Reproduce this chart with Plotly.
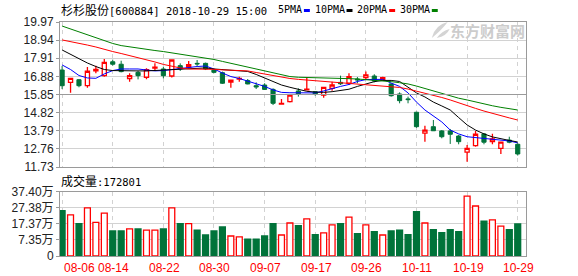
import plotly.graph_objects as go

dates = ["08-06","08-07","08-08","08-09","08-10","08-13","08-14","08-15","08-16","08-17",
         "08-20","08-21","08-22","08-23","08-24","08-27","08-28","08-29","08-30","08-31",
         "09-03","09-04","09-05","09-06","09-07","09-10","09-11","09-12","09-13","09-14",
         "09-17","09-18","09-19","09-20","09-21","09-25","09-26","09-27","09-28",
         "10-08","10-09","10-10","10-11","10-12","10-15","10-16","10-17","10-18","10-19",
         "10-22","10-23","10-24","10-25","10-26","10-29"]

opens = [17.24,16.54,16.69,16.35,17.19,16.92,17.71,17.57,16.75,17.11,
         16.83,17.35,17.30,16.90,17.49,17.41,17.62,17.62,17.24,17.09,
         16.55,16.73,16.64,16.35,16.39,16.14,15.30,15.44,16.05,16.12,
         16.01,15.82,16.20,16.54,16.49,16.73,16.81,16.90,16.67,16.45,
         15.88,15.60,14.84,13.65,14.02,13.78,13.78,13.49,12.57,12.94,
         13.61,13.17,12.79,13.26,13.02]
highs = [17.47,16.77,16.72,17.41,17.49,17.87,17.83,17.77,17.06,17.20,
         17.34,17.62,17.43,17.85,17.62,17.75,17.81,17.66,17.28,17.15,
         16.67,16.86,16.73,16.54,16.49,16.20,15.60,15.88,16.20,16.81,
         16.01,16.29,16.58,16.92,17.06,16.84,17.15,17.00,16.86,16.49,
         15.97,15.73,14.87,14.08,14.40,13.83,13.89,13.55,12.98,13.78,
         13.65,13.62,13.17,13.45,13.08]
lows = [16.16,15.95,16.26,16.24,17.06,16.86,17.49,17.11,16.58,16.71,
        16.71,17.19,16.77,16.81,17.19,17.34,17.47,17.24,17.06,16.45,
        16.24,16.58,16.43,16.16,16.11,15.25,15.30,15.39,15.73,16.11,
        15.78,15.67,16.07,16.39,16.39,16.49,16.67,16.54,16.62,15.73,
        15.35,15.35,13.96,13.17,13.79,13.36,13.04,13.02,12.03,12.88,
        13.02,13.02,12.47,13.08,12.38]
closes = [16.35,16.77,16.35,17.17,17.28,17.68,17.57,17.15,16.92,16.92,
          17.26,17.40,16.92,17.81,17.30,17.54,17.59,17.30,17.11,16.49,
          16.67,16.76,16.45,16.28,16.14,15.35,15.35,15.82,15.88,16.16,
          15.86,16.26,16.39,16.46,16.86,16.68,16.96,16.62,16.81,15.78,
          15.50,15.56,14.02,13.82,13.79,13.45,13.59,13.17,12.79,13.59,
          13.14,13.32,13.14,13.14,12.47]

ma5 = [17.53,17.27,16.93,16.79,16.77,17.02,17.21,17.30,17.30,17.30,
       17.24,17.19,17.21,17.27,17.36,17.41,17.44,17.47,17.30,17.07,
       16.87,16.76,16.62,16.49,16.31,16.11,15.97,15.95,15.95,15.94,
       15.94,16.05,16.20,16.31,16.42,16.59,16.70,16.71,16.71,16.50,
       16.31,15.94,15.42,14.97,14.63,14.29,13.83,13.61,13.45,13.41,
       13.36,13.29,13.27,13.21,13.10]
ma10 = [18.38,18.12,17.87,17.64,17.44,17.27,17.21,17.19,17.19,17.19,
        17.19,17.21,17.24,17.26,17.28,17.30,17.32,17.36,17.30,17.26,
        17.23,17.19,17.16,16.99,16.79,16.59,16.39,16.26,16.15,16.03,
        15.99,15.97,16.01,16.06,16.15,16.31,16.45,16.58,16.65,16.65,
        16.59,16.25,15.94,15.71,15.42,15.20,14.97,14.54,14.12,13.83,
        13.61,13.44,13.32,13.24,13.15]
ma20 = [18.95,18.86,18.78,18.66,18.55,18.41,18.29,18.18,18.07,17.95,
        17.84,17.70,17.56,17.44,17.36,17.30,17.30,17.30,17.28,17.25,
        17.23,17.20,17.19,17.10,17.02,16.90,16.82,16.76,16.71,16.67,
        16.65,16.62,16.58,16.53,16.49,16.45,16.42,16.39,16.35,16.30,
        16.25,16.16,16.05,15.94,15.82,15.68,15.54,15.37,15.23,15.06,
        14.91,14.77,14.63,14.52,14.40]
ma30 = [19.74,19.57,19.40,19.23,19.06,18.89,18.75,18.63,18.55,18.48,
        18.41,18.35,18.29,18.22,18.15,18.08,18.01,17.92,17.84,17.73,
        17.62,17.53,17.41,17.30,17.19,17.07,16.96,16.87,16.83,16.81,
        16.79,16.78,16.77,16.77,16.75,16.73,16.70,16.66,16.62,16.58,
        16.52,16.45,16.33,16.19,16.05,15.91,15.77,15.64,15.54,15.42,
        15.31,15.21,15.12,15.04,14.97]

volumes = [25.6,22.9,17.5,27.3,18.3,24.1,12.9,12.9,14.2,14.2,
           13.5,13.5,14.2,27.3,17.5,17.5,13.5,10.4,12.9,15.4,
           9.8,9.2,7.9,7.9,9.8,17.5,10.4,17.9,16.2,20.4,
           10.6,11.7,16.7,17.5,21.6,11.2,16.7,12.5,10.4,12.9,
           13.5,10.6,24.9,17.9,13.7,11.9,13.7,12.5,34.7,28.5,
           19.1,19.8,16.0,13.7,17.28]

price_ticks = [19.97,18.94,17.91,16.88,15.85,14.82,13.79,12.76,11.73]
vol_ticks = [37.40,27.38,17.37,7.35]
vol_labels = ["37.40万","27.38万","17.37万","7.35万"]
x_tick_idx = [0,6,12,18,24,30,36,42,48,54]
title_cn = "杉杉股份"
title_rest = "[600884] 2018-10-29 15:00"
vol_cn = "成交量"
vol_rest = ":172801"
ma_names = ["5PMA","10PMA","20PMA","30PMA"]
watermark = "东方财富网"

RED = "#ff0000"
GREEN = "#00733a"
MA_COLORS = ["#0000ff", "#000000", "#ff0000", "#008000"]
GRID = "#d2d2d2"
BORDER = "#9a9a9a"
FONT = "Liberation Sans, Noto Sans CJK SC, sans-serif"
MONO = "DejaVu Sans Mono, monospace"
CJK = "Noto Sans CJK SC"

W, H = 578, 276
ML, MR, MT, MB = 56, 52, 22, 20
PW, PH = W - ML - MR, H - MT - MB

def px(x):
    return (x - ML) / PW

def py(y):
    return (H - MB - y) / PH

VMIN = vol_ticks[0] - 4 * (vol_ticks[0] - vol_ticks[1])

fig = go.Figure()

fig.add_trace(go.Candlestick(
    x=dates, open=opens, high=highs, low=lows, close=closes,
    increasing=dict(line=dict(color=RED, width=1.3), fillcolor="#ffffff"),
    decreasing=dict(line=dict(color=GREEN, width=1), fillcolor=GREEN),
    whiskerwidth=0, xaxis="x", yaxis="y", hoverinfo="skip"))

for vals, col in zip([ma5, ma10, ma20, ma30], MA_COLORS):
    fig.add_trace(go.Scatter(x=dates, y=vals, mode="lines",
                             line=dict(color=col, width=1),
                             xaxis="x", yaxis="y", hoverinfo="skip"))

up = [c >= o for o, c in zip(opens, closes)]
fig.add_trace(go.Bar(
    x=dates, y=[v - VMIN for v in volumes], base=VMIN,
    marker=dict(color=["#ffffff" if u else GREEN for u in up],
                line=dict(color=[RED if u else GREEN for u in up], width=1.3)),
    xaxis="x2", yaxis="y2", hoverinfo="skip"))

xr = [-0.25, len(dates) - 1 + 0.98]
xcommon = dict(type="category", range=xr, tickvals=[dates[i] for i in x_tick_idx],
               showticklabels=False, showgrid=True, gridcolor=GRID, griddash="4px,4px",
               gridwidth=1, showline=True, linecolor=BORDER, mirror=True, ticks="",
               zeroline=False, fixedrange=True)

fig.update_layout(
    width=W, height=H, margin=dict(l=ML, r=MR, t=MT, b=MB),
    paper_bgcolor="white", plot_bgcolor="white", showlegend=False,
    font=dict(family=FONT, size=12, color="#000000"),
    bargap=0.3,
    xaxis=dict(domain=[0, 1], anchor="y", rangeslider=dict(visible=False), **xcommon),
    xaxis2=dict(domain=[0, 1], anchor="y2", **xcommon),
    yaxis=dict(domain=[py(167), 1], anchor="x", range=[price_ticks[-1], price_ticks[0]],
               tickvals=price_ticks, ticktext=["%.2f" % t for t in price_ticks],
               showgrid=True, gridcolor=GRID, zeroline=False, showline=True,
               linecolor=BORDER, mirror=True, ticks="outside", ticklen=3,
               tickcolor=BORDER, tickfont=dict(size=12, color="#222222"), fixedrange=True),
    yaxis2=dict(domain=[0, py(191.7)], anchor="x2", range=[VMIN, vol_ticks[0]],
                tickvals=vol_ticks + [VMIN], ticktext=vol_labels + ["0"],
                showgrid=True, gridcolor=GRID, zeroline=False, showline=True,
                linecolor=BORDER, mirror=True, ticks="outside", ticklen=3,
                tickcolor=BORDER, tickfont=dict(size=12, color="#222222"), fixedrange=True),
)

# darker middle line of price panel
fig.add_shape(type="line", xref="paper", yref="y", x0=0, x1=1,
              y0=price_ticks[4], y1=price_ticks[4], line=dict(color=BORDER, width=1))

ann = []
ann.append(dict(text="<span style='font-family:%s;font-size:12px'>%s</span>%s" % (CJK, title_cn, title_rest),
                x=px(55), y=py(10), xref="paper", yref="paper",
                xanchor="left", yanchor="middle", showarrow=False,
                font=dict(size=10.5, color="#000000", family=MONO)))
leg_x = [276, 313, 356, 399]
dash_x = [302, 345, 388, 431]
for name, lx, dx, col in zip(ma_names, leg_x, dash_x, MA_COLORS):
    ann.append(dict(text=name, x=px(lx - 2), y=py(10), xref="paper", yref="paper",
                    xanchor="left", yanchor="middle", showarrow=False,
                    font=dict(size=10, color="#000000", family=MONO)))
    fig.add_shape(type="rect", xref="paper", yref="paper", x0=px(dx), x1=px(dx + 6),
                  y0=py(12), y1=py(9), line=dict(width=0), fillcolor=col)
# watermark logo + text
fig.add_shape(type="path", xref="paper", yref="paper",
              path="M %f,%f Q %f,%f %f,%f Q %f,%f %f,%f Z" % (
                  px(431), py(38), px(434), py(25), px(447), py(22),
                  px(441), py(30), px(431), py(38)),
              fillcolor="#d4d4d4", line=dict(width=0))
fig.add_shape(type="path", xref="paper", yref="paper",
              path="M %f,%f Q %f,%f %f,%f Q %f,%f %f,%f Z" % (
                  px(436), py(38), px(441), py(31), px(449), py(29),
                  px(446), py(36), px(436), py(38)),
              fillcolor="#d4d4d4", line=dict(width=0))
ann.append(dict(text="<b>%s</b>" % watermark, x=px(527), y=py(31), xref="paper", yref="paper",
                xanchor="right", yanchor="middle", showarrow=False,
                font=dict(size=15, color="#cccccc", family=CJK)))
ann.append(dict(text="<span style='font-family:%s;font-size:12px'>%s</span>%s" % (CJK, vol_cn, vol_rest),
                x=px(55), y=py(180), xref="paper", yref="paper",
                xanchor="left", yanchor="middle", showarrow=False,
                font=dict(size=10.5, color="#000000", family=MONO)))
for k, i in enumerate(x_tick_idx):
    ann.append(dict(text=dates[i], x=dates[i], y=py(268), xref="x2", yref="paper",
                    xanchor="left" if k == 0 else "center", yanchor="middle",
                    xshift=0 if k == 0 else 1, showarrow=False,
                    font=dict(size=12, color=RED)))
fig.update_layout(annotations=ann)

fig.write_html("out.html", config={"displayModeBar": False})
